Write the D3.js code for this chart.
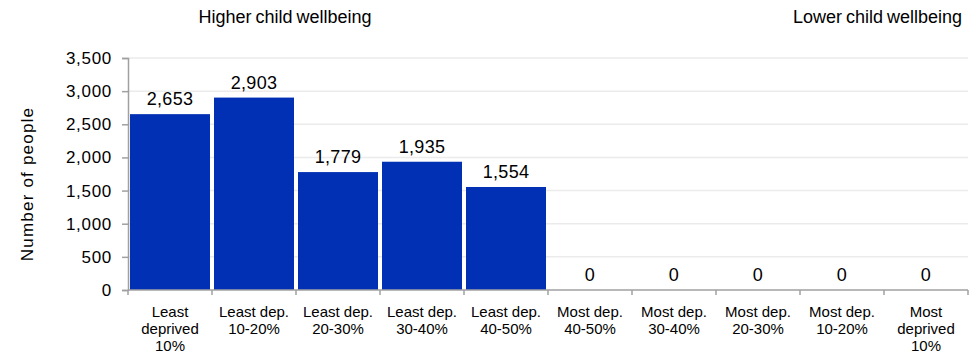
<!DOCTYPE html>
<html><head><meta charset="utf-8">
<script src="https://cdn.jsdelivr.net/npm/d3@7"></script>
<style>body{margin:0;background:#fff}svg{display:block;font-family:"Liberation Sans",Arial,sans-serif}</style>
</head><body><svg id="c" width="975" height="353"></svg>
<script>
const categories = [
  ["Least","deprived","10%"],["Least dep.","10-20%"],["Least dep.","20-30%"],["Least dep.","30-40%"],["Least dep.","40-50%"],
  ["Most dep.","40-50%"],["Most dep.","30-40%"],["Most dep.","20-30%"],["Most dep.","10-20%"],["Most","deprived","10%"]
];
const values = [2653, 2903, 1779, 1935, 1554, 0, 0, 0, 0, 0];
const yTicks = [0, 500, 1000, 1500, 2000, 2500, 3000, 3500];

const svg = d3.select("#c");
const m = {l:128, r:968, t:58, b:290};
const keys = categories.map((d,i)=>i);
const x = d3.scaleBand().domain(keys).range([m.l, m.r]).paddingInner(0.0476).paddingOuter(0.0238);
const y = d3.scaleLinear().domain([0,3500]).range([m.b, m.t]);
const fmt = d3.format(",");

// gridlines
svg.append("g").selectAll("line").data(yTicks.slice(1)).join("line")
  .attr("x1", m.l).attr("x2", m.r).attr("y1", d=>y(d)).attr("y2", d=>y(d))
  .attr("stroke","#ebebeb").attr("stroke-width",1.5);

// bars
svg.append("g").selectAll("rect").data(values).join("rect")
  .attr("x",(d,i)=>x(i)).attr("width",x.bandwidth())
  .attr("y",d=>y(d)).attr("height",d=>y(0)-y(d)).attr("fill","#0230b4");

// value labels
svg.append("g").selectAll("text").data(values).join("text")
  .attr("x",(d,i)=>x(i)+x.bandwidth()/2).attr("y",d=>y(d)-9)
  .attr("text-anchor","middle").attr("font-size",18).attr("letter-spacing",0.3).attr("fill","#000")
  .text(d=>fmt(d));

// y axis
const ya = svg.append("g").attr("transform",`translate(${m.l},0)`)
  .call(d3.axisLeft(y).tickValues(yTicks).tickFormat(fmt).tickSize(6).tickPadding(10));
ya.selectAll("path,line").attr("stroke","#a0a0a0").attr("stroke-width",1.5);
ya.selectAll("text").attr("font-size",17).attr("letter-spacing",0.7).attr("fill","#000")
  .attr("font-family","Liberation Sans, Arial, sans-serif");

// x axis
const xa = svg.append("g").attr("transform",`translate(0,${m.b})`);
xa.append("line").attr("x1",m.l).attr("x2",m.r).attr("stroke","#a0a0a0").attr("stroke-width",1.5);
const bounds = keys.map(i=>x(i)-x.step()*x.paddingInner()/2).concat([m.r]);
xa.selectAll("line.t").data(bounds).join("line").attr("class","t")
  .attr("x1",d=>d).attr("x2",d=>d).attr("y1",0).attr("y2",5).attr("stroke","#a0a0a0").attr("stroke-width",1.5);
const lab = xa.selectAll("text").data(categories).join("text")
  .attr("text-anchor","middle").attr("font-size",15).attr("fill","#000")
  .attr("transform",(d,i)=>`translate(${x(i)+x.bandwidth()/2},26.5)`);
lab.selectAll("tspan").data(d=>d).join("tspan").attr("x",0).attr("dy",(d,j)=>j?17:0).text(d=>d);

// y title
svg.append("text").attr("transform",`translate(33,184) rotate(-90)`)
  .attr("text-anchor","middle").attr("font-size",17).attr("letter-spacing",1.2).text("Number of people");

// annotations
svg.append("text").attr("x",285).attr("y",23).attr("text-anchor","middle").attr("font-size",18).attr("word-spacing",-1).text("Higher child wellbeing");
svg.append("text").attr("x",962).attr("y",23).attr("text-anchor","end").attr("font-size",18).attr("word-spacing",-1).text("Lower child wellbeing");
</script></body></html>
